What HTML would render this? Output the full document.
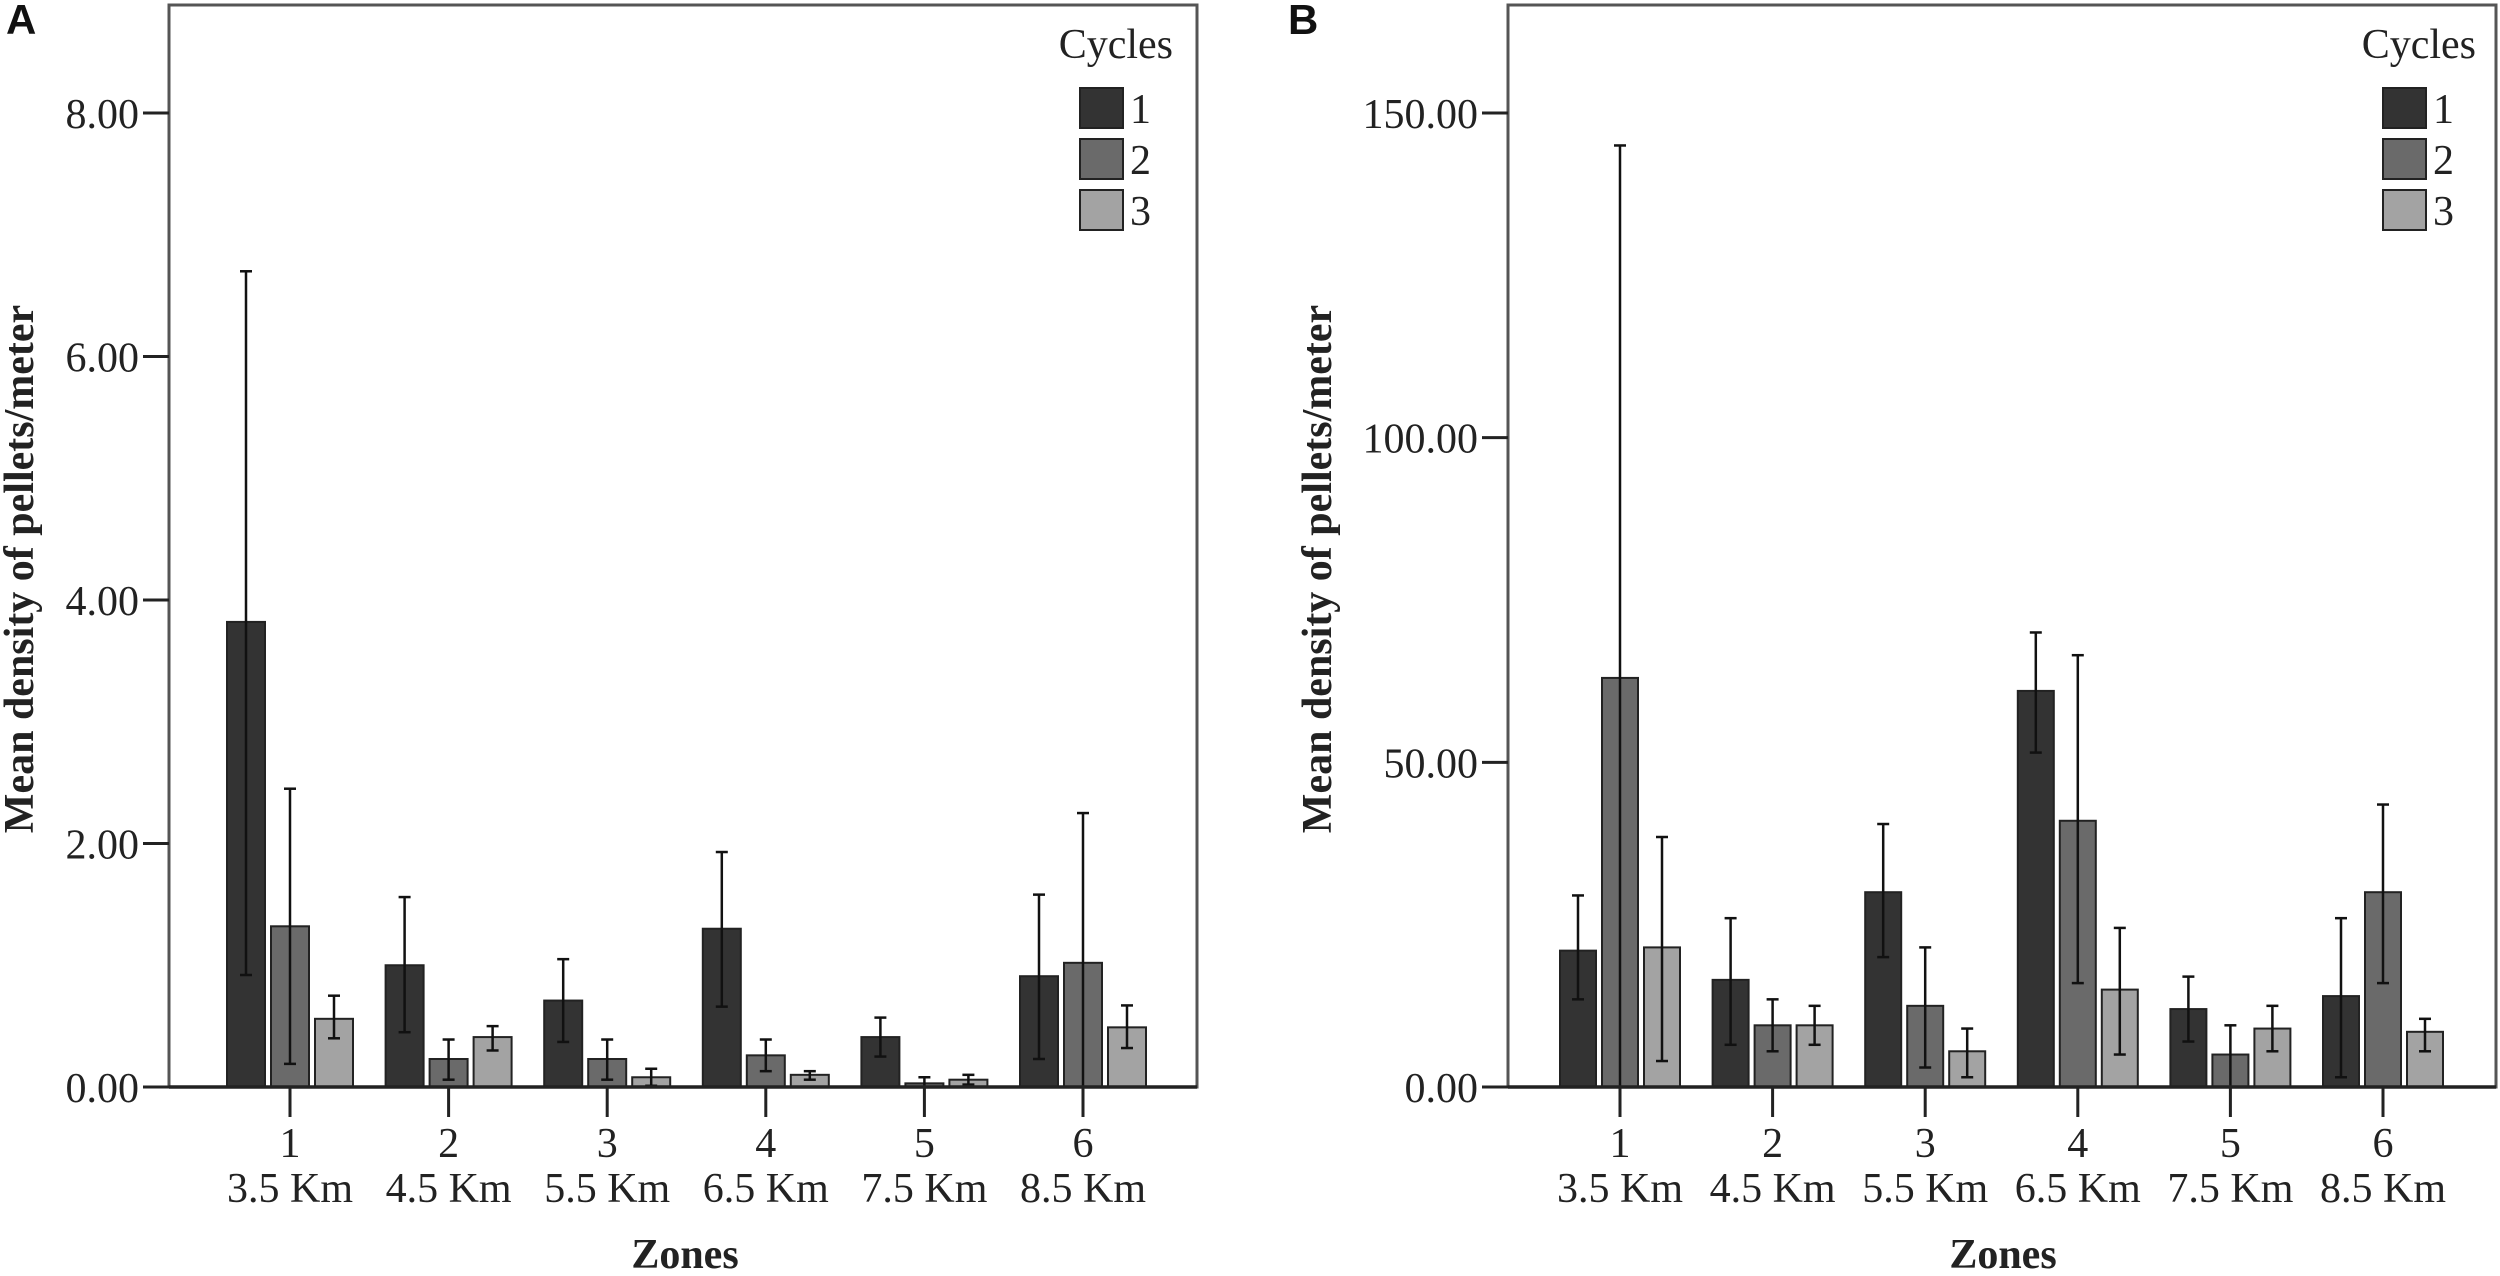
<!DOCTYPE html>
<html><head><meta charset="utf-8"><style>
html,body{margin:0;padding:0;background:#fff;}
svg{display:block;font-family:"Liberation Serif",serif;}
</style></head><body>
<svg id="chart" width="2500" height="1276" viewBox="0 0 2500 1276" xmlns="http://www.w3.org/2000/svg"></svg>
<script>
const categories = ["1","2","3","4","5","6"];
const distances = ["3.5 Km","4.5 Km","5.5 Km","6.5 Km","7.5 Km","8.5 Km"];
const seriesNames = ["1","2","3"];
const colors = ["#333333","#6a6a6a","#a3a3a3"];
const aTicks = [0,2,4,6,8];
const aTickLabels = ["0.00","2.00","4.00","6.00","8.00"];
const aMean1 = [3.82,1.00,0.71,1.30,0.41,0.91];
const aMean2 = [1.32,0.23,0.23,0.26,0.03,1.02];
const aMean3 = [0.56,0.41,0.08,0.10,0.06,0.49];
const aHi1 = [6.70,1.56,1.05,1.93,0.57,1.58];
const aHi2 = [2.45,0.39,0.39,0.39,0.08,2.25];
const aHi3 = [0.75,0.50,0.15,0.13,0.10,0.67];
const aLo1 = [0.92,0.45,0.37,0.66,0.25,0.23];
const aLo2 = [0.19,0.06,0.06,0.13,0.00,0.00];
const aLo3 = [0.40,0.30,0.01,0.06,0.02,0.32];
const bTicks = [0,50,100,150];
const bTickLabels = ["0.00","50.00","100.00","150.00"];
const bMean1 = [21,16.5,30,61,12,14];
const bMean2 = [63,9.5,12.5,41,5,30];
const bMean3 = [21.5,9.5,5.5,15,9,8.5];
const bHi1 = [29.5,26,40.5,70,17,26];
const bHi2 = [145,13.5,21.5,66.5,9.5,43.5];
const bHi3 = [38.5,12.5,9,24.5,12.5,10.5];
const bLo1 = [13.5,6.5,20,51.5,7,1.5];
const bLo2 = [0,5.5,3,16,0,16];
const bLo3 = [4,6.5,1.5,5,5.5,5.5];

const NS = "http://www.w3.org/2000/svg";
const svg = document.getElementById("chart");
function mk(tag, attrs, parent, text){
  const e = document.createElementNS(NS, tag);
  for (const k in attrs) e.setAttribute(k, attrs[k]);
  if (text !== undefined) e.textContent = text;
  (parent||svg).appendChild(e);
  return e;
}
const FS = 42;
function panel(cfg){
  const g = mk("g", {});
  
  
  const y = v => cfg.y0 - v * (cfg.y0 - cfg.yTopPx) / cfg.yTopVal;
  const x = i => cfg.x1 + i * cfg.dx;
  const fr = mk("rect", {x:cfg.left, y:5, width:cfg.right-cfg.left, height:cfg.y0-5, fill:"none", stroke:"#555", "stroke-width":3}, g);
  
  
  cfg.ticks.forEach((t,k)=>{
    const ln = mk("line", {x1:cfg.left-26, x2:cfg.left, y1:y(t), y2:y(t), stroke:"#222", "stroke-width":3}, g);
    
    
    const tx = mk("text", {x:cfg.left-30, y:y(t)+15, "text-anchor":"end", "font-size":FS, fill:"#222"}, g, cfg.tickLabels[k]);
    
    
  });
  const bw = cfg.bw;
  cfg.means.forEach((arr, s)=>{
    arr.forEach((v,i)=>{
      const cx = x(i) + (s-1)*cfg.gap;
      const r = mk("rect", {x:cx-bw/2, y:y(v), width:bw, height:cfg.y0-y(v), fill:colors[s], stroke:"#222", "stroke-width":2}, g);
      
      
      const hi = y(cfg.his[s][i]), lo = y(cfg.los[s][i]);
      const eg = mk("g", {stroke:"#111", "stroke-width":2.5}, g);
      
      
      mk("line", {x1:cx, x2:cx, y1:hi, y2:lo}, eg);
      mk("line", {x1:cx-6, x2:cx+6, y1:hi, y2:hi}, eg);
      mk("line", {x1:cx-6, x2:cx+6, y1:lo, y2:lo}, eg);
    });
  });
  mk("line", {x1:cfg.left, x2:cfg.right, y1:cfg.y0, y2:cfg.y0, stroke:"#222", "stroke-width":3.5}, g);
  categories.forEach((c,i)=>{
    mk("line", {x1:x(i), x2:x(i), y1:cfg.y0, y2:cfg.y0+30, stroke:"#222", "stroke-width":3}, g);
    const t1 = mk("text", {x:x(i), y:1157, "text-anchor":"middle", "font-size":FS, fill:"#222"}, g, c);
    
    
    const t2 = mk("text", {x:x(i), y:1202, "text-anchor":"middle", "font-size":FS, fill:"#222"}, g, distances[i]);
    
    
  });
  const xt = mk("text", {x:cfg.zonesX, y:1268, "text-anchor":"middle", "font-size":FS, "font-weight":"bold", fill:"#222"}, g, "Zones");
  
  
  const yt = mk("text", {x:0, y:0, transform:"translate("+cfg.ytx+",569) rotate(-90)", "text-anchor":"middle", "font-size":FS, "font-weight":"bold", fill:"#222"}, g, "Mean density of pellets/meter");
  
  
  const lg = mk("g", {}, g);
  
  
  mk("text", {x:cfg.legX+93, y:58, "text-anchor":"end", "font-size":FS, fill:"#222"}, lg, "Cycles");
  seriesNames.forEach((n,s)=>{
    const it = mk("g", {}, lg);
    
    
    mk("rect", {x:cfg.legX, y:88+s*51, width:43, height:40, fill:colors[s], stroke:"#222", "stroke-width":2}, it);
    mk("text", {x:cfg.legX+50, y:123+s*51, "font-size":FS, fill:"#222"}, it, n);
  });
  const pl = mk("text", {x:cfg.letterX, y:34, "font-family":"Liberation Sans, sans-serif", "font-size":42, "font-weight":"bold", fill:"#111"}, g, cfg.letter);
  
  
}

panel({name:"panel-a", letter:"A", letterX:6, left:169, right:1197, y0:1087, yTopPx:113, yTopVal:8,
  x1:290, dx:158.6, bw:38, gap:44, ticks:aTicks, tickLabels:aTickLabels, zonesX:685,
  means:[aMean1,aMean2,aMean3], his:[aHi1,aHi2,aHi3], los:[aLo1,aLo2,aLo3], ytx:33, legX:1080});
panel({name:"panel-b", letter:"B", letterX:1288, left:1508, right:2496, y0:1087, yTopPx:113, yTopVal:150,
  x1:1620, dx:152.6, bw:36, gap:42, ticks:bTicks, tickLabels:bTickLabels, zonesX:2003,
  means:[bMean1,bMean2,bMean3], his:[bHi1,bHi2,bHi3], los:[bLo1,bLo2,bLo3], ytx:1331, legX:2383});
</script>
</body></html>
